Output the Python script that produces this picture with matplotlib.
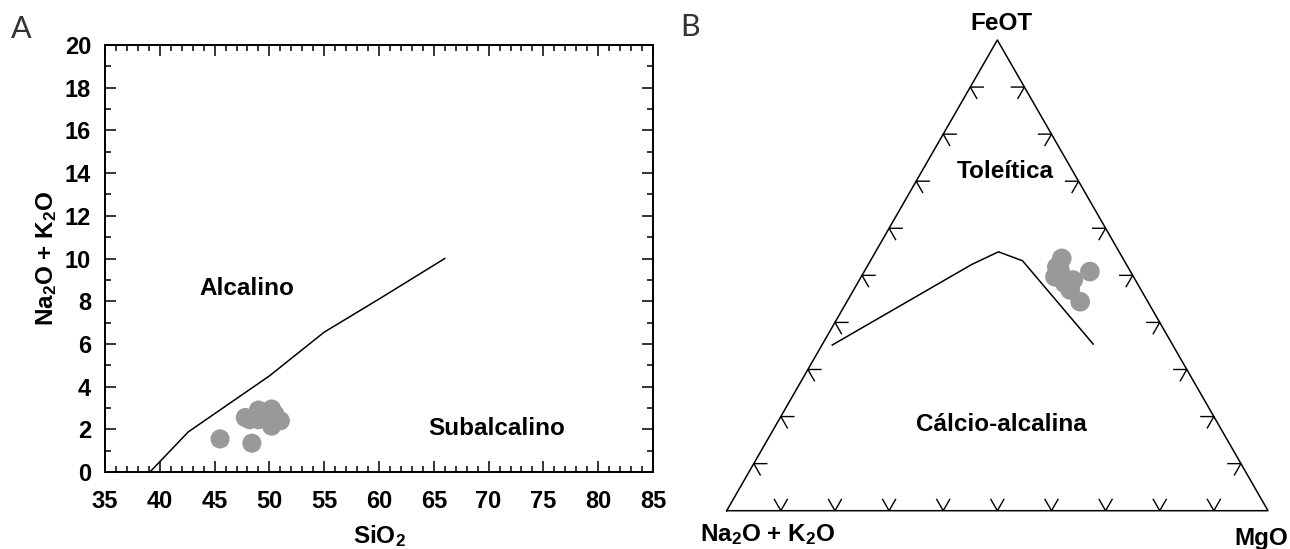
import matplotlib
matplotlib.use("Agg")
import matplotlib.pyplot as plt
import numpy as np

plt.rcParams['font.family'] = ['Liberation Sans', 'DejaVu Sans']
plt.rcParams['font.weight'] = 'bold'
plt.rcParams['axes.labelweight'] = 'bold'
plt.rcParams['mathtext.fontset'] = 'custom'
plt.rcParams['mathtext.bf'] = 'Liberation Sans:bold'
plt.rcParams['mathtext.rm'] = 'Liberation Sans:bold'
plt.rcParams['mathtext.default'] = 'bf'

# painel A - TAS (SiO2 x Na2O+K2O)
sio2 = [45.5, 48.4, 47.8, 48.2, 49.0, 49.0, 50.2, 50.2, 51.0, 50.5, 49.6]
alcalis = [1.55, 1.35, 2.55, 2.45, 2.9, 2.45, 2.95, 2.15, 2.4, 2.7, 2.6]
linha_sio2 = [39.1, 42.6, 50.0, 55.0, 60.0, 66.0]
linha_alc = [0.0, 1.88, 4.5, 6.55, 8.1, 10.0]

# painel B - AFM (Na2O+K2O, FeOT, MgO)
afm_a = [11.3, 13.1, 14.5, 7.5, 13.4, 12.5, 13.1, 12.9, 11.5]
afm_f = [53.6, 51.8, 49.7, 50.8, 48.3, 44.4, 46.9, 51.1, 49.0]
afm_m = [35.1, 35.1, 35.8, 41.7, 38.3, 43.1, 40.0, 36.0, 39.5]
curva_a = [62.9, 28.6, 22.3, 18.8, 14.6]
curva_f = [35.2, 52.3, 55.0, 53.1, 35.4]
curva_m = [1.9, 19.1, 22.7, 28.1, 50.0]

cinza = '#999999'
fs = 17.5


def ternario(a, f, m):
    a = np.array(a, dtype=float)
    f = np.array(f, dtype=float)
    m = np.array(m, dtype=float)
    tot = a + f + m
    f = f / tot
    m = m / tot
    return m + f / 2, f * np.sqrt(3) / 2


fig = plt.figure(figsize=(12.9, 5.49), dpi=100)

# ---------------- A ----------------
ax = fig.add_axes([105 / 1290, 77 / 549, 548 / 1290, 427 / 549])
ax.plot(linha_sio2, linha_alc, color='black', lw=1.1)
ax.scatter(sio2, alcalis, s=190, color=cinza, edgecolors='none', zorder=3)
ax.set_xlim(35, 85)
ax.set_ylim(0, 20)
ax.set_xticks(range(35, 86, 5))
ax.set_xticks(range(35, 86), minor=True)
ax.set_yticks(range(0, 21, 2))
ax.set_yticks(range(0, 21), minor=True)
ax.tick_params(which='both', direction='in', top=True, right=True, width=1.1)
ax.tick_params(which='major', length=8)
ax.tick_params(which='minor', length=4.5)
ax.tick_params(axis='x', pad=13, labelsize=17)
ax.tick_params(axis='y', pad=10, labelsize=17)
for s in ax.spines.values():
    s.set_linewidth(1.4)
ax.set_xlabel('SiO$_2$', fontsize=fs, va='center')
ax.xaxis.set_label_coords(0.5, -0.15)
ax.set_ylabel('Na$_2$O + K$_2$O', fontsize=fs, va='center')
ax.yaxis.set_label_coords(-0.107, 0.5)
ax.text(47.98, 8.59, 'Alcalino', fontsize=fs, ha='center', va='center')
ax.text(70.7, 2.05, 'Subalcalino', fontsize=fs, ha='center', va='center')
ax.text(-0.153, 1.0375, 'A', transform=ax.transAxes, fontsize=22, color='#333333',
        fontweight='normal', family=['Lato', 'DejaVu Sans'], ha='center', va='center')

# ---------------- B ----------------
ax2 = fig.add_axes([726.7 / 1290, 38.3 / 549, 541.3 / 1290, 470.7 / 549])
ax2.set_xlim(0, 1)
ax2.set_ylim(0, np.sqrt(3) / 2)
ax2.axis('off')
h = np.sqrt(3) / 2
ax2.plot([0, 1, 0.5, 0], [0, 0, h, 0], color='black', lw=1.1, clip_on=False)

# marcas de 10 em 10 %
L = 0.024
for k in range(1, 10):
    t = k / 10
    # base
    ax2.plot([t - L * 0.5, t, t + L * 0.5], [L * 0.866, 0, L * 0.866], color='black', lw=1.0)
    # lado esquerdo
    x, y = 0.5 * t, h * t
    ax2.plot([x + L, x, x + L * 0.5], [y, y, y - L * 0.866], color='black', lw=1.0)
    # lado direito
    x, y = 1 - 0.5 * t, h * t
    ax2.plot([x - L, x, x - L * 0.5], [y, y, y - L * 0.866], color='black', lw=1.0)

cx, cy = ternario(curva_a, curva_f, curva_m)
ax2.plot(cx, cy, color='black', lw=1.1)
px, py = ternario(afm_a, afm_f, afm_m)
ax2.scatter(px, py, s=200, color=cinza, edgecolors='none', zorder=3)

ax2.text(0.507, 1.034, 'FeOT', transform=ax2.transAxes, fontsize=fs, ha='center', va='center')
ax2.text(0.514, 0.7196, 'Toleítica', transform=ax2.transAxes, fontsize=fs, ha='center', va='center')
ax2.text(0.508, 0.184, 'Cálcio-alcalina', transform=ax2.transAxes, fontsize=fs, ha='center', va='center')
ax2.text(0.0754, -0.05, 'Na$_2$O + K$_2$O', transform=ax2.transAxes, fontsize=fs, ha='center', va='center')
ax2.text(0.987, -0.06, 'MgO', transform=ax2.transAxes, fontsize=fs, ha='center', va='center')
ax2.text(-0.0678, 1.0276, 'B', transform=ax2.transAxes, fontsize=22, color='#333333',
         fontweight='normal', family=['Lato', 'DejaVu Sans'], ha='center', va='center')

fig.savefig('out.png', dpi=100)
